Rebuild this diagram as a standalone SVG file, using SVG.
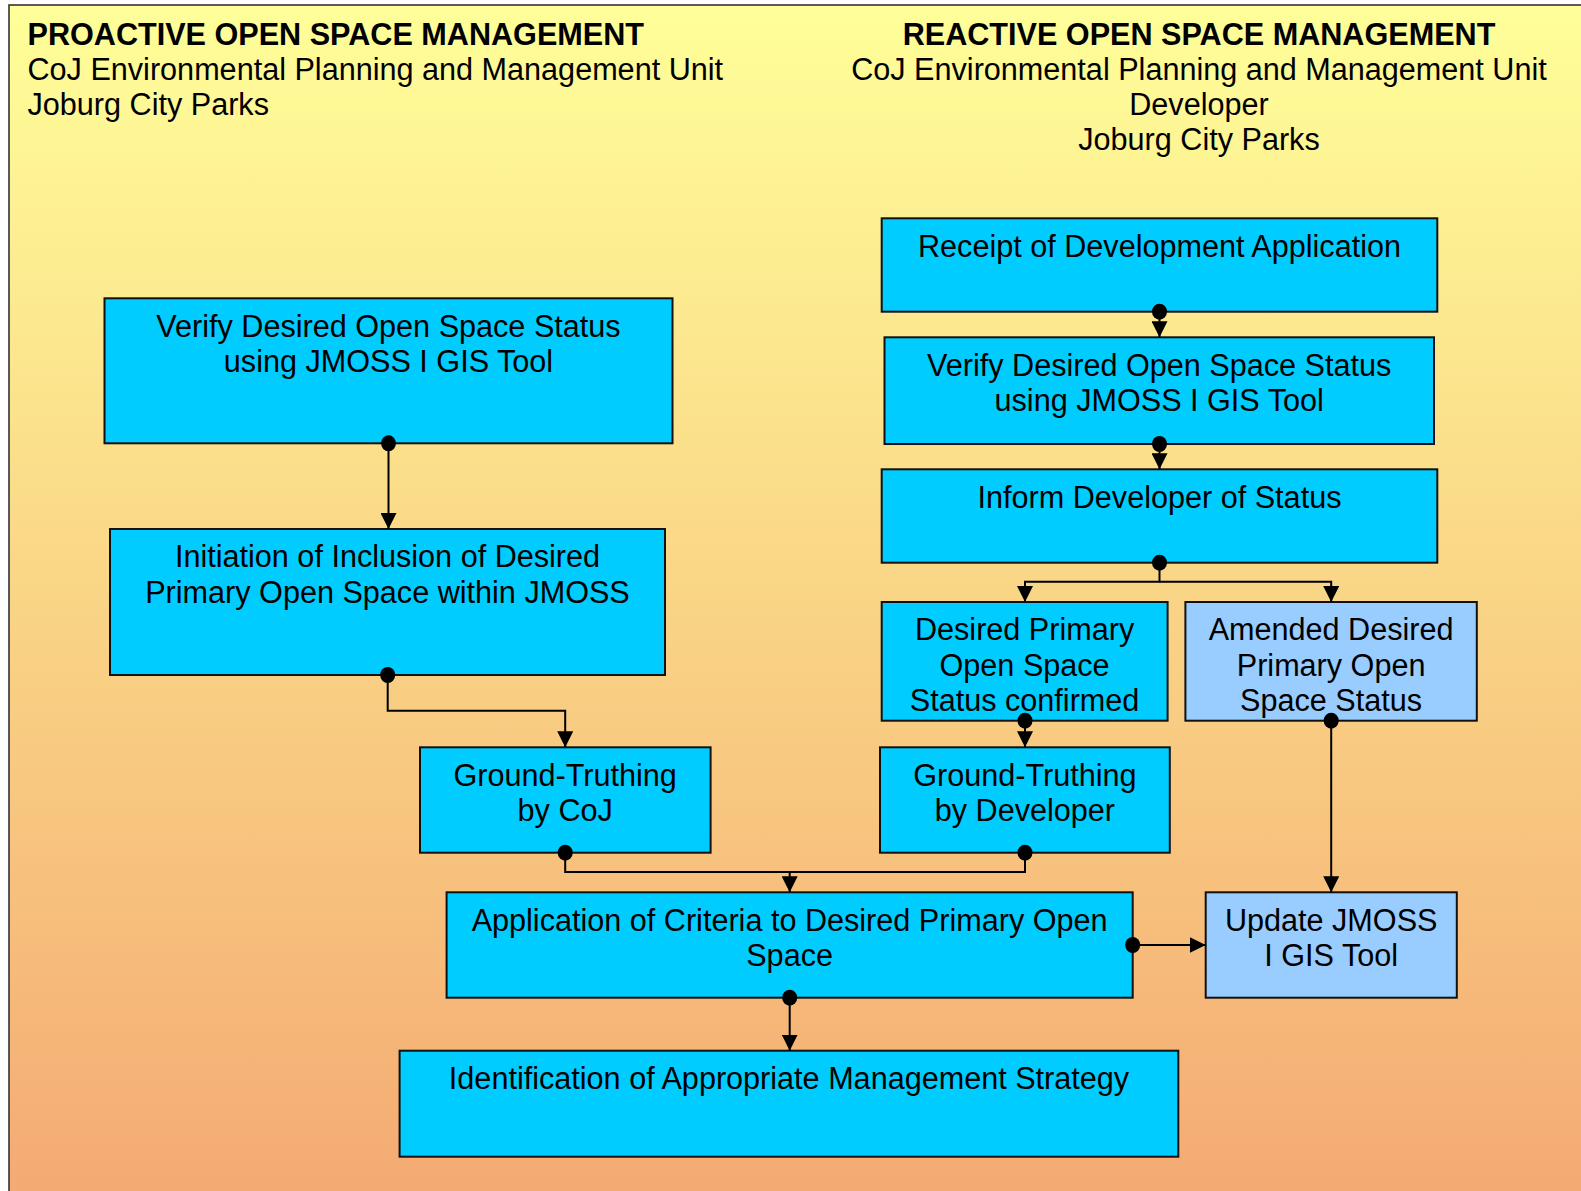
<svg xmlns="http://www.w3.org/2000/svg" width="1581" height="1191" viewBox="0 0 1581 1191">
  <defs>
    <linearGradient id="bg" x1="0" y1="0" x2="0" y2="1">
      <stop offset="0" stop-color="#FFFF99"/>
      <stop offset="1" stop-color="#F4A872"/>
    </linearGradient>
    <marker id="arrow" viewBox="0 0 16 16" refX="16" refY="8" markerWidth="16" markerHeight="16" markerUnits="userSpaceOnUse" orient="auto">
      <path d="M0,0 L16,8 L0,16 Z" fill="#000"/>
    </marker>
    <marker id="dot" viewBox="0 0 18 18" refX="9" refY="9" markerWidth="18" markerHeight="18" markerUnits="userSpaceOnUse" orient="0">
      <ellipse cx="9" cy="9" rx="7.5" ry="8" fill="#000"/>
    </marker>
  </defs>
  <style>
    text { font-family: "Liberation Sans", Arial, sans-serif; font-size: 30.6px; fill: #000; }
    .title { font-weight: bold; }
    .mid { text-anchor: middle; }
    .box { stroke: #111; stroke-width: 2; }
    .cyan { fill: #00CCFF; }
    .pale { fill: #99CCFF; }
    .wire { fill: none; stroke: #000; stroke-width: 2; }
  </style>

  <!-- page background -->
  <rect x="0" y="0" width="1581" height="1191" fill="#FFFFFF"/>
  <rect x="9" y="5" width="1600" height="1220" fill="url(#bg)" stroke="#333" stroke-width="1.6"/>

  <!-- column headings -->
  <g id="heading-proactive">
    <text class="title" x="27.5" y="44.5">PROACTIVE OPEN SPACE MANAGEMENT</text>
    <text x="27.5" y="79.8">CoJ Environmental Planning and Management Unit</text>
    <text x="27.5" y="115.1">Joburg City Parks</text>
  </g>
  <g id="heading-reactive">
    <text class="title mid" x="1199" y="44.5">REACTIVE OPEN SPACE MANAGEMENT</text>
    <text class="mid" x="1199" y="79.8">CoJ Environmental Planning and Management Unit</text>
    <text class="mid" x="1199" y="115.1">Developer</text>
    <text class="mid" x="1199" y="150.4">Joburg City Parks</text>
  </g>

  <!-- process steps -->
  <g id="verify-proactive">
    <rect class="box cyan" x="104.5" y="298.3" width="568" height="145"/>
    <text class="mid" x="388.5" y="336.9">Verify Desired Open Space Status</text>
    <text class="mid" x="388.5" y="372.2">using JMOSS I GIS Tool</text>
  </g>
  <g id="initiation">
    <rect class="box cyan" x="110" y="529" width="555" height="146"/>
    <text class="mid" x="387.5" y="567.4">Initiation of Inclusion of Desired</text>
    <text class="mid" x="387.5" y="602.7">Primary Open Space within JMOSS</text>
  </g>
  <g id="ground-truthing-coj">
    <rect class="box cyan" x="420" y="747.3" width="290.6" height="105.4"/>
    <text class="mid" x="565.2" y="785.7">Ground-Truthing</text>
    <text class="mid" x="565.2" y="821">by CoJ</text>
  </g>
  <g id="receipt">
    <rect class="box cyan" x="881.7" y="218.3" width="555.6" height="93.4"/>
    <text class="mid" x="1159.5" y="256.7">Receipt of Development Application</text>
  </g>
  <g id="verify-reactive">
    <rect class="box cyan" x="884.5" y="337.3" width="549.5" height="106.7"/>
    <text class="mid" x="1159.2" y="375.7">Verify Desired Open Space Status</text>
    <text class="mid" x="1159.2" y="411">using JMOSS I GIS Tool</text>
  </g>
  <g id="inform-developer">
    <rect class="box cyan" x="881.7" y="469.3" width="555.6" height="93.4"/>
    <text class="mid" x="1159.5" y="507.7">Inform Developer of Status</text>
  </g>
  <g id="status-confirmed">
    <rect class="box cyan" x="881.7" y="602" width="285.9" height="118.7"/>
    <text class="mid" x="1024.6" y="640.4">Desired Primary</text>
    <text class="mid" x="1024.6" y="675.7">Open Space</text>
    <text class="mid" x="1024.6" y="711">Status confirmed</text>
  </g>
  <g id="status-amended">
    <rect class="box pale" x="1185.4" y="602" width="291.4" height="118.7"/>
    <text class="mid" x="1331.1" y="640.4">Amended Desired</text>
    <text class="mid" x="1331.1" y="675.7">Primary Open</text>
    <text class="mid" x="1331.1" y="711">Space Status</text>
  </g>
  <g id="ground-truthing-developer">
    <rect class="box cyan" x="880" y="747.3" width="289.8" height="105.4"/>
    <text class="mid" x="1024.9" y="785.7">Ground-Truthing</text>
    <text class="mid" x="1024.9" y="821">by Developer</text>
  </g>
  <g id="application-of-criteria">
    <rect class="box cyan" x="446.6" y="892.3" width="686.1" height="105.4"/>
    <text class="mid" x="789.6" y="930.7">Application of Criteria to Desired Primary Open</text>
    <text class="mid" x="789.6" y="966">Space</text>
  </g>
  <g id="update-jmoss">
    <rect class="box pale" x="1205.7" y="892.3" width="251.1" height="105.4"/>
    <text class="mid" x="1331.2" y="930.7">Update JMOSS</text>
    <text class="mid" x="1331.2" y="966">I GIS Tool</text>
  </g>
  <g id="management-strategy">
    <rect class="box cyan" x="399.6" y="1050.7" width="778.7" height="106"/>
    <text class="mid" x="789" y="1089.1">Identification of Appropriate Management Strategy</text>
  </g>

  <!-- connectors -->
  <g id="connectors">
    <path class="wire" d="M388.5,443.3 L388.5,529" marker-start="url(#dot)" marker-end="url(#arrow)"/>
    <path class="wire" d="M387.7,675 L387.7,710.7 L565.2,710.7 L565.2,747.3" marker-start="url(#dot)" marker-end="url(#arrow)"/>
    <path class="wire" d="M1159.5,311.7 L1159.5,337.3" marker-start="url(#dot)" marker-end="url(#arrow)"/>
    <path class="wire" d="M1159.5,444 L1159.5,469.3" marker-start="url(#dot)" marker-end="url(#arrow)"/>
    <path class="wire" d="M1159.5,562.7 L1159.5,581.7 L1025,581.7 L1025,602" marker-start="url(#dot)" marker-end="url(#arrow)"/>
    <path class="wire" d="M1159.5,581.7 L1331.2,581.7 L1331.2,602" marker-end="url(#arrow)"/>
    <path class="wire" d="M1025,720.7 L1025,747.3" marker-start="url(#dot)" marker-end="url(#arrow)"/>
    <path class="wire" d="M1331.2,720.7 L1331.2,892.3" marker-start="url(#dot)" marker-end="url(#arrow)"/>
    <path class="wire" d="M565.2,852.7 L565.2,872 L789.7,872 L789.7,892.3" marker-start="url(#dot)" marker-end="url(#arrow)"/>
    <path class="wire" d="M1025,852.7 L1025,872 L789.7,872" marker-start="url(#dot)"/>
    <path class="wire" d="M1132.7,945 L1205.7,945" marker-start="url(#dot)" marker-end="url(#arrow)"/>
    <path class="wire" d="M789.7,997.7 L789.7,1050.7" marker-start="url(#dot)" marker-end="url(#arrow)"/>
  </g>
</svg>
